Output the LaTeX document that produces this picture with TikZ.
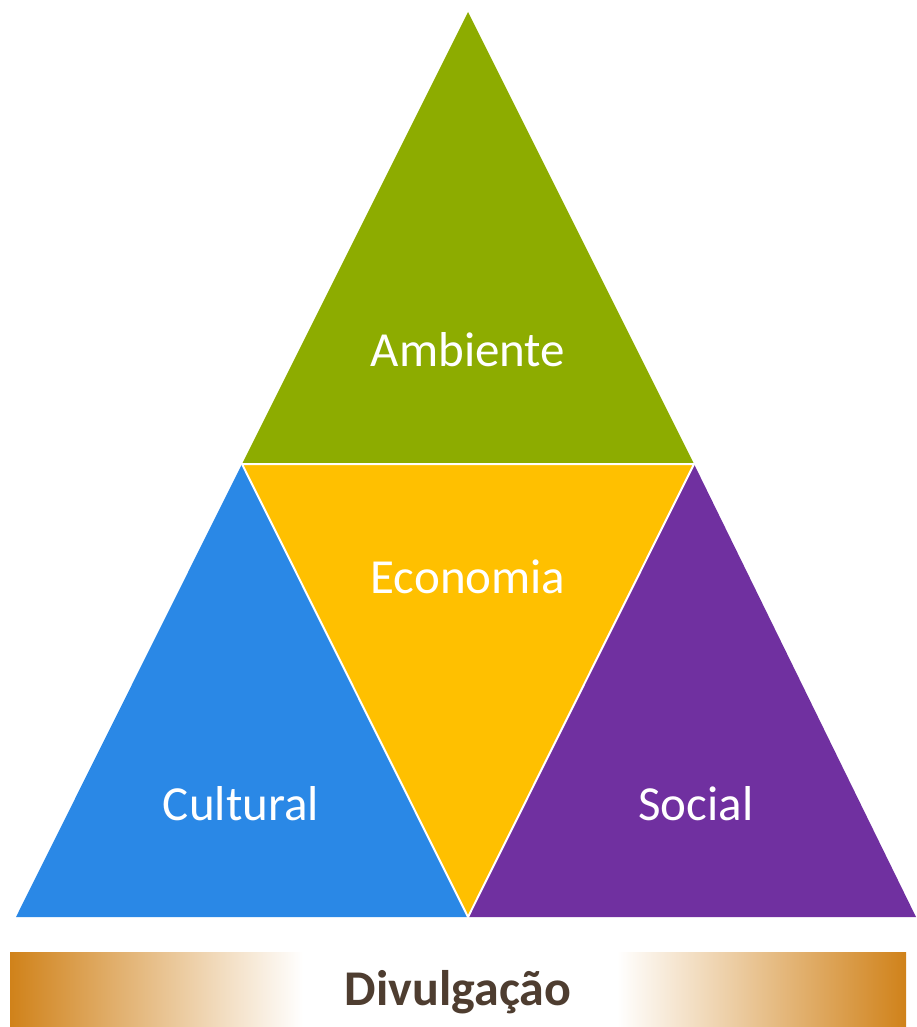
\documentclass[tikz,border=0pt]{standalone}
\usepackage{fontspec}
\setmainfont{Carlito}
\definecolor{cgreen}{HTML}{8DAC00}
\definecolor{cyellow}{HTML}{FFC000}
\definecolor{cblue}{HTML}{2A88E6}
\definecolor{cpurple}{HTML}{7030A0}
\definecolor{corange}{HTML}{D0821A}
\definecolor{ctext}{HTML}{4E3D30}
\tikzset{
  tri/.style={draw=white, line width=2pt, line join=miter},
  lbl/.style={text=white, font=\fontsize{49}{58}\selectfont, inner sep=0pt},
  barlbl/.style={text=ctext, font=\bfseries\fontsize{50}{60}\selectfont, inner sep=0pt}
}
\begin{document}
\begin{tikzpicture}[x=1pt,y=-1pt]
\useasboundingbox (0,0) rectangle (916,1027);
% triangles
\coordinate (T) at (468,12);
\coordinate (ML) at (242,464);
\coordinate (MR) at (694,464);
\coordinate (BL) at (16,917);
\coordinate (BM) at (468,917);
\coordinate (BR) at (916,917);
\fill[cgreen] (T) -- (MR) -- (ML) -- cycle;
\fill[cblue] (ML) -- (BM) -- (BL) -- cycle;
\fill[cpurple] (MR) -- (BR) -- (BM) -- cycle;
\fill[cyellow] (ML) -- (MR) -- (BM) -- cycle;
\draw[tri] (ML) -- (MR) -- (BM) -- cycle;
% bar
\shade[left color=corange, right color=white] (10,952) rectangle (303,1027);
\shade[left color=white, right color=corange] (617,952) rectangle (906,1027);
% labels
\node[lbl] (amb) at (468,350) {Ambiente};
\node[lbl] (eco) at (468,577) {Economia};
\node[lbl] (cul) at (241,804) {Cultural};
\node[lbl] (soc) at (696,804) {Social};
\node[barlbl] (div) at (458,992) {Divulgação};
\end{tikzpicture}
\end{document}
